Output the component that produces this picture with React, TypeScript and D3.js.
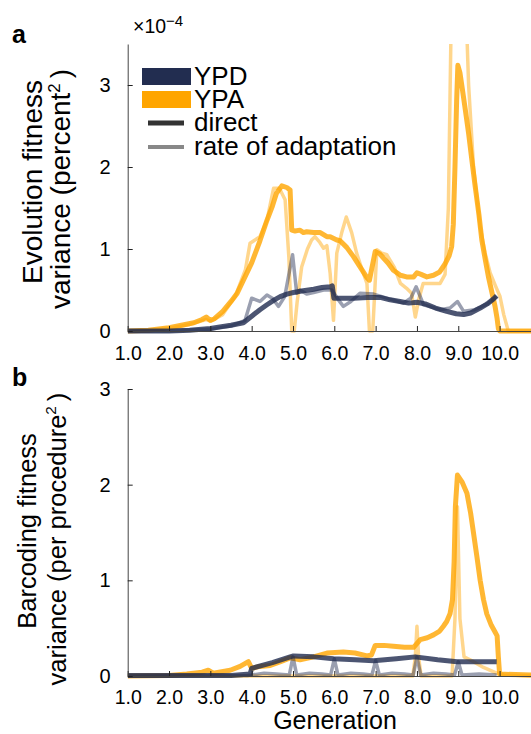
import { useEffect, useRef } from 'react';
import * as d3 from 'd3';

const W = 531;
const H = 734;
const FONT = "'Liberation Sans', Arial, Helvetica, sans-serif";
const NAVY = '#1f2a4f';
const ORANGE = '#FFA500';

// tick labels
const genTicks = [1, 2, 3, 4, 5, 6, 7, 8, 9, 10];
const varTicks = [0, 1, 2, 3];

// panel a: evolution fitness variance (x 1e-4)
const aYpaDirGen = [1.0, 1.5, 2.0, 2.3, 2.6, 2.8, 2.9, 3.0, 3.1, 3.3,
  3.5, 3.65, 3.8, 4.0, 4.2, 4.37, 4.5, 4.6, 4.73, 4.85,
  4.93, 4.97, 5.05, 5.17, 5.25, 5.33, 5.5, 5.66, 5.82, 5.9,
  6.06, 6.14, 6.3, 6.46, 6.6, 6.79, 6.85, 6.99, 7.1, 7.19,
  7.3, 7.43, 7.6, 7.75, 7.92, 8.0, 8.1, 8.24, 8.4, 8.55,
  8.68, 8.78, 8.84, 8.88, 8.92, 8.96, 8.99, 9.04, 9.09, 9.17,
  9.25, 9.33, 9.41, 9.5, 9.57, 9.65, 9.73, 9.81, 9.89, 9.94,
  9.97, 10.0, 10.4, 10.76];
const aYpaDirVal = [0, 0.01, 0.04, 0.07, 0.1, 0.14, 0.17, 0.13, 0.15, 0.24,
  0.36, 0.46, 0.62, 0.83, 1.1, 1.35, 1.52, 1.68, 1.77, 1.75,
  1.72, 1.23, 1.22, 1.23, 1.2, 1.21, 1.2, 1.2, 1.15, 1.15,
  1.11, 1.1, 1.02, 0.91, 0.8, 0.65, 0.62, 0.97, 0.94, 0.89,
  0.83, 0.74, 0.68, 0.66, 0.66, 0.71, 0.69, 0.66, 0.68, 0.72,
  0.82, 0.92, 1.03, 1.3, 2.0, 2.8, 3.24, 3.15, 2.98, 2.7,
  2.41, 2.08, 1.76, 1.42, 1.11, 0.88, 0.66, 0.48, 0.3, 0.15,
  0.03, 0, 0, 0];

const aYpaRateGen = [1.0, 1.5, 2.0, 2.5, 2.9, 3.0, 3.3, 3.6, 3.85, 3.96,
  4.2, 4.37, 4.53, 4.67, 4.81, 4.9, 4.97, 5.03, 5.1, 5.21,
  5.35, 5.45, 5.53, 5.65, 5.74, 5.82, 5.9, 5.98, 6.06, 6.18,
  6.29, 6.42, 6.54, 6.67, 6.79, 6.85, 6.93, 7.03, 7.15, 7.27,
  7.45, 7.6, 7.75, 7.87, 7.96, 8.05, 8.15, 8.35, 8.56, 8.68,
  8.76, 8.84, 9.17, 9.25, 9.37, 9.53, 9.65, 9.77, 9.9, 10.01,
  10.1, 10.21, 10.76];
const aYpaRateVal = [0, 0.01, 0.03, 0.08, 0.14, 0.12, 0.2, 0.42, 0.75, 1.07,
  1.15, 1.35, 1.74, 1.74, 1.6, 0.9, 0, 0, 0.35, 0.78,
  1.0, 1.11, 1.15, 1.08, 1.01, 1.04, 0.7, 0.13, 0.95, 1.2,
  1.39, 1.2, 0.95, 0.75, 0.58, 0, 0, 0.99, 0.95, 0.93,
  0.78, 0.58, 0.52, 0.46, 0.17, 0.4, 0.58, 0.58, 0.58, 0.69,
  1.5, 4.2, 4.2, 3.0, 2.0, 1.27, 0.95, 0.71, 0.55, 0.42,
  0.2, 0, 0];

const aYpdDirGen = [1.0, 2.0, 2.5, 3.0, 3.23, 3.5, 3.8, 4.0, 4.2, 4.37,
  4.55, 4.69, 4.85, 5.01, 5.25, 5.5, 5.7, 5.9, 5.95, 5.99,
  6.2, 6.46, 6.8, 7.11, 7.35, 7.59, 7.8, 8.0, 8.2, 8.45,
  8.72, 8.95, 9.13, 9.3, 9.53, 9.7, 9.85, 9.93];
const aYpdDirVal = [0, 0, 0.01, 0.03, 0.05, 0.07, 0.1, 0.18, 0.26, 0.32,
  0.38, 0.42, 0.45, 0.47, 0.49, 0.51, 0.53, 0.54, 0.55, 0.4,
  0.4, 0.4, 0.41, 0.41, 0.38, 0.36, 0.34, 0.35, 0.33, 0.28,
  0.24, 0.21, 0.2, 0.22, 0.28, 0.33, 0.39, 0.43];

const aYpdRateGen = [1.0, 2.0, 3.0, 3.5, 3.84, 4.0, 4.2, 4.37, 4.5, 4.65,
  4.8, 4.99, 5.09, 5.17, 5.33, 5.5, 5.74, 5.94, 6.1, 6.22,
  6.4, 6.62, 6.95, 7.27, 7.67, 7.85, 7.98, 8.16, 8.56, 8.8,
  8.98, 9.13, 9.4, 9.7, 9.93];
const aYpdRateVal = [0, 0, 0.02, 0.06, 0.13, 0.4, 0.36, 0.44, 0.4, 0.3,
  0.42, 0.93, 0.46, 0.5, 0.45, 0.47, 0.5, 0.5, 0.38, 0.3,
  0.36, 0.46, 0.45, 0.4, 0.34, 0.4, 0.54, 0.32, 0.26, 0.28,
  0.36, 0.24, 0.26, 0.33, 0.42];

// panel b: barcoding fitness variance
const bYpaDirGen = [1.0, 2.0, 2.43, 2.8, 2.95, 3.07, 3.48, 3.72, 3.92, 4.0,
  4.2, 4.45, 4.7, 4.93, 5.17, 5.5, 5.82, 6.22, 6.5, 6.79,
  6.9, 6.99, 7.2, 7.43, 7.7, 7.92, 8.08, 8.25, 8.4, 8.55,
  8.64, 8.72, 8.8, 8.86, 8.9, 8.93, 8.98, 9.09, 9.21, 9.3,
  9.37, 9.45, 9.53, 9.61, 9.69, 9.8, 9.89, 9.94, 9.97, 10.0,
  10.76];
const bYpaDirVal = [0, 0.005, 0.02, 0.04, 0.06, 0.03, 0.06, 0.1, 0.15, 0.08,
  0.1, 0.11, 0.15, 0.19, 0.17, 0.2, 0.24, 0.25, 0.24, 0.21,
  0.22, 0.32, 0.32, 0.31, 0.3, 0.3, 0.38, 0.4, 0.43, 0.47,
  0.52, 0.57, 0.65, 0.8, 1.2, 1.77, 2.1, 2.03, 1.91, 1.7,
  1.49, 1.25, 1.0, 0.8, 0.65, 0.53, 0.46, 0.42, 0.2, 0.02,
  0.01];

const bYpaRateGen = [1.0, 7.9, 7.96, 8.0, 8.04, 8.1, 8.85, 8.92, 8.98, 9.04, 9.14, 9.37, 9.61, 9.93, 10.1, 10.76];
const bYpaRateVal = [0, 0, 0.2, 0.52, 0.2, 0, 0, 0.6, 1.77, 0.6, 0.2, 0.15, 0.09, 0.03, 0.01, 0];

const bYpdDirGen = [1.0, 3.5, 3.96, 4.0, 4.5, 4.93, 5.01, 5.5, 5.98, 6.5, 6.95, 7.5, 7.96, 8.5, 8.97, 9.5, 9.93];
const bYpdDirVal = [0.005, 0.005, 0.02, 0.08, 0.14, 0.2, 0.21, 0.2, 0.18, 0.17, 0.16, 0.18, 0.2, 0.17, 0.15, 0.15, 0.15];

const bYpdRateGen = [1.0, 3.9, 4.0, 4.3, 4.6, 4.91, 5.0, 5.09, 5.4, 5.7,
  5.91, 6.0, 6.09, 6.4, 6.7, 6.91, 7.0, 7.09, 7.4, 7.7,
  7.91, 8.0, 8.09, 8.4, 8.7, 8.91, 9.0, 9.09, 9.5, 9.93];
const bYpdRateVal = [0, 0.005, 0.01, 0.03, 0.02, 0.01, 0.2, 0.01, 0.03, 0.02,
  0.01, 0.18, 0.01, 0.03, 0.02, 0.01, 0.16, 0.01, 0.03, 0.02,
  0.01, 0.2, 0.01, 0.03, 0.02, 0.01, 0.15, 0.01, 0.02, 0.01];

const LEFT = 127.7;

export default function App() {
  const ref = useRef<SVGSVGElement>(null);

  useEffect(() => {
    draw();
  }, []);

  function drawPanel(svg: any, p: any) {
    const x = d3.scaleLinear().domain([1, 10.76]).range([LEFT, W]);
    const y = d3.scaleLinear().domain([0, p.ymax]).range([p.bottom, p.top]);

    const clipId = 'clip-' + p.key;
    svg.append('clipPath').attr('id', clipId)
      .append('rect')
      .attr('x', LEFT).attr('y', p.top)
      .attr('width', W - LEFT).attr('height', p.bottom - p.top + 10);

    const line = d3.line<[number, number]>()
      .x(d => x(d[0]))
      .y(d => y(d[1]));

    const plot = svg.append('g').attr('clip-path', `url(#${clipId})`);
    // draw order: faint rate lines under the direct ones
    const series = [
      { gen: p.ypaRateGen, val: p.ypaRateVal, color: ORANGE, w: 3.5, op: 0.45 },
      { gen: p.ypaDirGen, val: p.ypaDirVal, color: ORANGE, w: 5, op: 0.8 },
      { gen: p.ypdRateGen, val: p.ypdRateVal, color: NAVY, w: 3.5, op: 0.45 },
      { gen: p.ypdDirGen, val: p.ypdDirVal, color: NAVY, w: 5, op: 0.8 },
    ];
    series.forEach(s => {
      plot.append('path')
        .attr('d', line(d3.zip(s.gen, s.val) as [number, number][]))
        .attr('fill', 'none')
        .attr('stroke', s.color)
        .attr('stroke-width', s.w)
        .attr('stroke-opacity', s.op)
        .attr('stroke-linejoin', 'round');
    });

    // axes, ticks pointing inward
    const xAx = svg.append('g')
      .attr('transform', `translate(0,${p.bottom})`)
      .call(d3.axisBottom(x).tickValues(genTicks).tickFormat(d3.format('.1f'))
        .tickSize(-5).tickSizeOuter(0).tickPadding(p.xPad));
    const yAx = svg.append('g')
      .attr('transform', `translate(${LEFT},0)`)
      .call(d3.axisLeft(y).tickValues(varTicks).tickFormat(d3.format('d'))
        .tickSize(-5).tickSizeOuter(0).tickPadding(17));
    [xAx, yAx].forEach(ax => {
      ax.attr('font-family', FONT).attr('font-size', 20);
      ax.select('.domain').attr('stroke', '#444').attr('stroke-width', 1);
      ax.selectAll('.tick line').attr('stroke', '#222');
      ax.selectAll('.tick text').attr('fill', '#000');
    });
    xAx.attr('font-size', 19.5);

    // panel letter
    svg.append('text')
      .attr('x', 12).attr('y', p.letterY)
      .attr('font-family', FONT).attr('font-size', 25).attr('font-weight', 'bold')
      .text(p.letter);

    // y title, two rotated lines
    svg.append('text')
      .attr('transform', `translate(${p.t1x},${p.t1y}) rotate(-90)`)
      .attr('text-anchor', 'middle')
      .attr('font-family', FONT).attr('font-size', p.titleSize)
      .text(p.title1);
    const t2 = svg.append('text')
      .attr('transform', `translate(${p.t2x},${p.t2y}) rotate(-90)`)
      .attr('text-anchor', 'middle')
      .attr('font-family', FONT).attr('font-size', p.titleSize);
    t2.append('tspan').text(p.title2);
    t2.append('tspan').attr('font-size', p.titleSize * 0.6).attr('dy', -10).text('2');
    t2.append('tspan').attr('dy', 10).attr('dx', 5).text(')');
  }

  function draw() {
    const svg = d3.select(ref.current);
    svg.selectAll('*').remove();

    drawPanel(svg, {
      key: 'a', letter: 'a', letterY: 43, top: 44, bottom: 331, ymax: 3.5, xPad: 15,
      title1: 'Evolution fitness', title2: 'variance (percent', titleSize: 28,
      t1x: 42, t1y: 182, t2x: 70, t2y: 189,
      ypaDirGen: aYpaDirGen, ypaDirVal: aYpaDirVal,
      ypaRateGen: aYpaRateGen, ypaRateVal: aYpaRateVal,
      ypdDirGen: aYpdDirGen, ypdDirVal: aYpdDirVal,
      ypdRateGen: aYpdRateGen, ypdRateVal: aYpdRateVal,
    });
    drawPanel(svg, {
      key: 'b', letter: 'b', letterY: 386, top: 389, bottom: 676, ymax: 3, xPad: 14,
      title1: 'Barcoding fitness', title2: 'variance (per procedure', titleSize: 25.5,
      t1x: 36, t1y: 531, t2x: 66, t2y: 539,
      ypaDirGen: bYpaDirGen, ypaDirVal: bYpaDirVal,
      ypaRateGen: bYpaRateGen, ypaRateVal: bYpaRateVal,
      ypdDirGen: bYpdDirGen, ypdDirVal: bYpdDirVal,
      ypdRateGen: bYpdRateGen, ypdRateVal: bYpdRateVal,
    });

    // exponent for panel a
    const ex = svg.append('text').attr('x', 133).attr('y', 33)
      .attr('font-family', FONT).attr('font-size', 19.5);
    ex.append('tspan').text('\u00d710');
    ex.append('tspan').attr('font-size', 15).attr('dy', -7).text('\u22124');

    // legend
    const lg = svg.append('g').attr('font-family', FONT).attr('font-size', 26);
    lg.append('rect').attr('x', 142).attr('y', 68).attr('width', 49).attr('height', 17).attr('fill', '#222d50');
    lg.append('rect').attr('x', 142).attr('y', 91).attr('width', 49).attr('height', 17).attr('fill', ORANGE);
    lg.append('line').attr('x1', 148).attr('x2', 184).attr('y1', 123).attr('y2', 123)
      .attr('stroke', '#333').attr('stroke-width', 5);
    lg.append('line').attr('x1', 148).attr('x2', 184).attr('y1', 147).attr('y2', 147)
      .attr('stroke', '#888').attr('stroke-width', 4);
    lg.append('text').attr('x', 194).attr('y', 85).text('YPD');
    lg.append('text').attr('x', 194).attr('y', 108).text('YPA');
    lg.append('text').attr('x', 194).attr('y', 131).text('direct');
    lg.append('text').attr('x', 194).attr('y', 155).text('rate of adaptation');

    // x title
    svg.append('text')
      .attr('x', 335).attr('y', 729)
      .attr('text-anchor', 'middle')
      .attr('font-family', FONT).attr('font-size', 25)
      .text('Generation');
  }

  return <svg ref={ref} width={W} height={H} style={{ position: 'absolute', left: 0, top: 0 }} />;
}
